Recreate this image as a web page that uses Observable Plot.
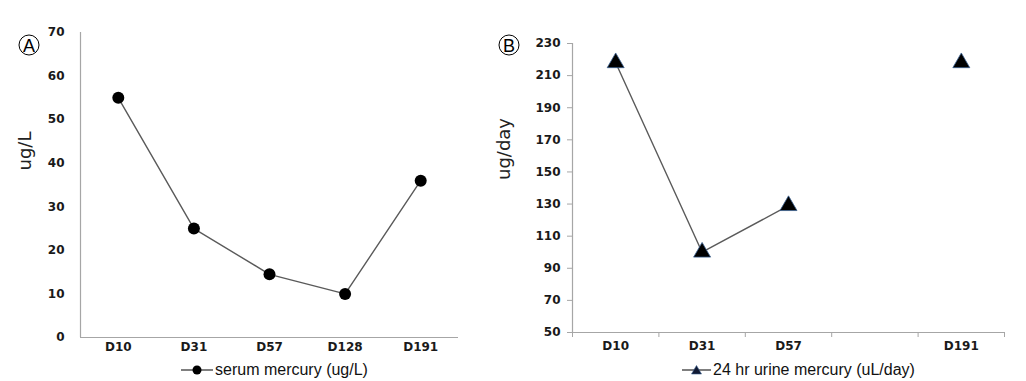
<!DOCTYPE html>
<html><head><meta charset="utf-8">
<script src="https://cdn.jsdelivr.net/npm/d3@7"></script>
<script src="https://cdn.jsdelivr.net/npm/@observablehq/plot@0.6"></script>
<style>
body{margin:0;background:#fff;width:1026px;height:381px;position:relative;overflow:hidden;font-family:"Liberation Sans",Arial,sans-serif;color:#111;}
.panel{position:absolute;top:0}
.ylab{position:absolute;font-family:"DejaVu Sans",sans-serif;font-size:18px;transform:translate(-50%,-50%) rotate(-90deg);white-space:nowrap;color:#222;}
.circ{position:absolute;width:19px;height:19px;border:1px solid #000;border-radius:50%;font-size:18px;line-height:20px;text-align:center;transform:translate(-50%,-50%);color:#000;}
.legend{position:absolute;display:flex;align-items:center;font-size:16px;color:#111;white-space:nowrap;transform:translateY(-50%);}
.legend svg{margin-right:2px}
</style></head><body>
<div id="a" class="panel" style="left:0px"></div>
<div id="b" class="panel" style="left:490px"></div>
<div class="circ" style="left:29px;top:45px">A</div>
<div class="circ" style="left:509px;top:45px">B</div>
<div class="ylab" style="left:24px;top:151px">ug/L</div>
<div class="ylab" style="left:503px;top:149px">ug/day</div>
<div class="legend" style="left:181px;top:370px">
  <svg width="32" height="12"><line x1="0" y1="6" x2="32" y2="6" stroke="#555" stroke-width="1.5"/><circle cx="16" cy="6" r="4.5" fill="#000"/></svg>
  <span>serum mercury (ug/L)</span>
</div>
<div class="legend" style="left:682px;top:370px">
  <svg width="29" height="12"><line x1="0" y1="6" x2="29" y2="6" stroke="#555" stroke-width="1.5"/><path d="M14.5,1.5 L19.5,10 L9.5,10 Z" fill="#111a33" stroke="#3a5f8f" stroke-width="0.6"/></svg>
  <span>24 hr urine mercury (uL/day)</span>
</div>
<script>
// Panel A: serum mercury
const serumDays = ["D10", "D31", "D57", "D128", "D191"];
const serumValues = [55, 25, 14.5, 10, 36];
const serumYTicks = [0, 10, 20, 30, 40, 50, 60, 70];

// Panel B: 24 hr urine mercury
const urineDays = ["D10", "D31", "D57", "D128", "D191"];
const urineTickLabels = ["D10", "D31", "D57", "", "D191"];
const urineValues = [218, 100, 129, null, 218];
const urineYTicks = [50, 70, 90, 110, 130, 150, 170, 190, 210, 230];

const axisColor = "#a6a6a6";
const fontFamily = "'DejaVu Sans', sans-serif";

const serum = serumDays.map((day, i) => ({day, pos: i + 0.5, value: serumValues[i]}));
const urine = urineDays.map((day, i) => ({day, pos: i + 0.5, value: urineValues[i]}));

const plotA = Plot.plot({
  width: 480, height: 355,
  marginLeft: 80, marginRight: 22, marginTop: 32, marginBottom: 18,
  x: {domain: [0, serumDays.length], axis: null},
  y: {domain: [serumYTicks[0], serumYTicks[serumYTicks.length - 1]], axis: null},
  style: {background: "#fff", color: "#222", fontFamily, fontWeight: "bold"},
  marks: [
    Plot.axisY({ticks: serumYTicks, tickSize: 0, tickPadding: 16, fontSize: 12, label: null, fill: "#1a1a1a"}),
    Plot.axisX({ticks: serum.map(d => d.pos), tickFormat: p => serumDays[Math.floor(p)], tickSize: 0, tickPadding: 5, fontSize: 12, label: null, fill: "#1a1a1a"}),
    Plot.ruleX([0], {stroke: axisColor, strokeWidth: 1.2}),
    Plot.ruleY([serumYTicks[0]], {stroke: axisColor, strokeWidth: 1.2}),
    Plot.line(serum, {x: "pos", y: "value", stroke: "#5a5a5a", strokeWidth: 1.4}),
    Plot.dot(serum, {x: "pos", y: "value", r: 6, fill: "#000", stroke: "none"})
  ]
});
document.getElementById("a").append(plotA);

const plotB = Plot.plot({
  width: 536, height: 355,
  marginLeft: 82, marginRight: 22, marginTop: 43, marginBottom: 23,
  x: {domain: [0, urineDays.length], axis: null},
  y: {domain: [urineYTicks[0], urineYTicks[urineYTicks.length - 1]], axis: null},
  style: {background: "#fff", color: "#222", fontFamily, fontWeight: "bold"},
  marks: [
    Plot.axisY({ticks: urineYTicks, tickSize: 5, tickPadding: 7, fontSize: 12, label: null, stroke: axisColor, fill: "#1a1a1a"}),
    Plot.axisX({ticks: d3.range(urineDays.length + 1), tickFormat: () => "", tickSize: 5, label: null, stroke: axisColor}),
    Plot.axisX({ticks: urine.map(d => d.pos), tickFormat: p => urineTickLabels[Math.floor(p)], tickSize: 0, tickPadding: 9, fontSize: 12, label: null, fill: "#1a1a1a"}),
    Plot.ruleX([0], {stroke: axisColor, strokeWidth: 1.2}),
    Plot.ruleY([urineYTicks[0]], {stroke: axisColor, strokeWidth: 1.2}),
    Plot.line(urine, {x: "pos", y: "value", stroke: "#5a5a5a", strokeWidth: 1.4}),
    Plot.dot(urine.filter(d => d.value != null), {x: "pos", y: "value", symbol: "triangle", r: 6.3, fill: "#000", stroke: "#3a5f8f", strokeWidth: 0.8})
  ]
});
document.getElementById("b").append(plotB);
</script>
</body></html>
